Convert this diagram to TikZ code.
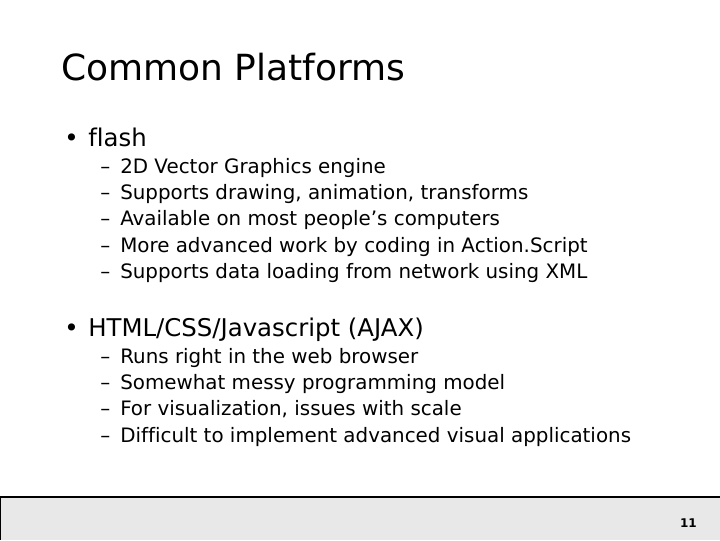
\documentclass[tikz,border=0pt]{standalone}
\usepackage{fontspec}
\setmainfont[Ligatures=NoCommon]{DejaVu Sans}
\begin{document}
\begin{tikzpicture}[x=0.75pt,y=-0.75pt,
  title/.style={anchor=base west,inner sep=0,font=\fontsize{27}{30}\selectfont},
  lvlone/.style={anchor=base west,inner sep=0,font=\fontsize{18.3}{20}\selectfont},
  lvltwo/.style={anchor=base west,inner sep=0,font=\fontsize{14.9}{17}\selectfont}]
\useasboundingbox (0,0) rectangle (720,540);
\fill[white] (0,0) rectangle (720,540);
\fill[gray!18] (0,497) rectangle (720,540);
\draw[line width=0.8pt] (0,540) -- (0,497) -- (720,497);
\node[title] (t) at (61,80) {Common Platforms};
\node[lvlone] (b1) at (64,146) {\textbullet};
\node[lvlone] (h1) at (88,146) {flash};
\foreach \y/\s [count=\i] in {173/2D Vector Graphics engine,199/{Supports drawing, animation, transforms},225/Available on most people’s computers,252/More advanced work by coding in Action.Script,278/Supports data loading from network using XML}{
  \node[lvltwo] (da\i) at (100,\y) {–};
  \node[lvltwo] (sa\i) at (120,\y) {\s};
}
\node[lvlone] (b2) at (64,336) {\textbullet};
\node[lvlone] (h2) at (88,336) {HTML/CSS/Javascript (AJAX)};
\foreach \y/\s [count=\i] in {363/Runs right in the web browser,389/Somewhat messy programming model,415/{For visualization, issues with scale},442/Difficult to implement advanced visual applications}{
  \node[lvltwo] (db\i) at (100,\y) {–};
  \node[lvltwo] (sb\i) at (120,\y) {\s};
}
\node[anchor=base east,inner sep=0,font=\bfseries\fontsize{9}{10}\selectfont] (pg) at (697,527) {11};
\end{tikzpicture}
\end{document}
